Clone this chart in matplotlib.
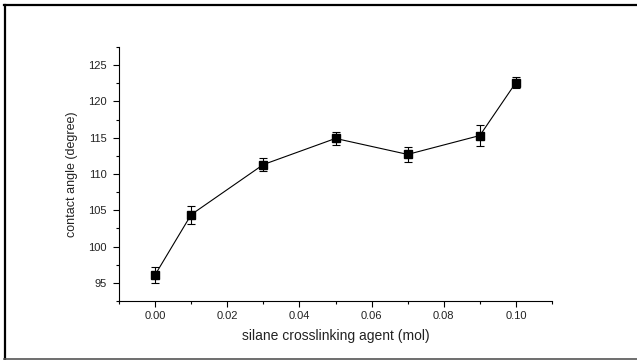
import numpy as np
import matplotlib.pyplot as plt
from matplotlib.lines import Line2D
from matplotlib.ticker import MultipleLocator

plt.rcParams['font.family'] = ['Liberation Sans', 'DejaVu Sans']

# -------- data --------
silane_mol = [0.00, 0.01, 0.03, 0.05, 0.07, 0.09, 0.10]
contact_angle = [96.1, 104.4, 111.3, 114.9, 112.7, 115.3, 122.6]
angle_err = [1.1, 1.25, 0.9, 0.9, 1.05, 1.4, 0.8]

fig = plt.figure(figsize=(6.37, 3.6), dpi=100)
ax = fig.add_axes([119 / 637, 59 / 360, 433 / 637, 254 / 360])

ax.errorbar(silane_mol, contact_angle, yerr=angle_err,
            fmt='-s', color='black', lw=0.8, ms=5.8,
            elinewidth=0.8, capsize=3, capthick=0.8)

ax.set_xlim(-0.01, 0.11)
ax.set_ylim(92.5, 127.5)
ax.xaxis.set_major_locator(MultipleLocator(0.02))
ax.xaxis.set_minor_locator(MultipleLocator(0.01))
ax.yaxis.set_major_locator(MultipleLocator(5))
ax.yaxis.set_minor_locator(MultipleLocator(2.5))
ax.xaxis.set_major_formatter(plt.FormatStrFormatter('%.2f'))

for s in ['top', 'right']:
    ax.spines[s].set_visible(False)
for s in ['left', 'bottom']:
    ax.spines[s].set_linewidth(0.8)

ax.tick_params(which='major', direction='out', length=4, width=0.8,
               labelsize=8, labelcolor='#222222')
ax.tick_params(axis='y', which='major', pad=5)
ax.tick_params(axis='x', which='major', pad=3)
ax.tick_params(which='minor', direction='out', length=2.5, width=0.8)

ax.set_xlabel('silane crosslinking agent (mol)', fontsize=10, labelpad=6,
              color='#222222')
ax.set_ylabel('contact angle (degree)', fontsize=9, labelpad=7,
              color='#222222')

# outer frame of the figure
fig.add_artist(Line2D([4.5 / 637, 4.5 / 637], [1.5 / 360, 355.5 / 360],
                      transform=fig.transFigure, color='black', lw=1.6))
fig.add_artist(Line2D([4 / 637, 1.0], [355.5 / 360, 355.5 / 360],
                      transform=fig.transFigure, color='black', lw=1.6))
fig.add_artist(Line2D([4 / 637, 1.0], [1.5 / 360, 1.5 / 360],
                      transform=fig.transFigure, color='#555555', lw=1.2))

fig.savefig('out.png', dpi=100)
